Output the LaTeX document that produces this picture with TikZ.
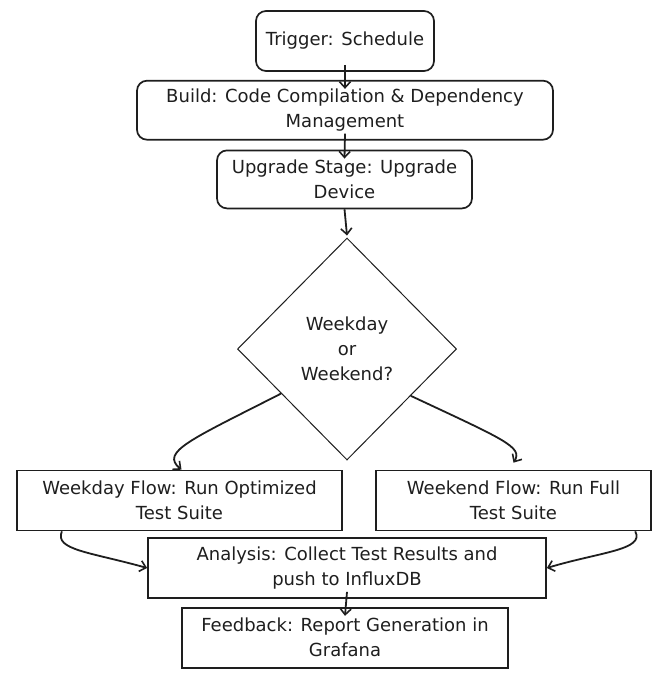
\documentclass[tikz,border=0pt]{standalone}
\usepackage{fontspec}
\setmainfont{DejaVu Sans}
\usepackage{tikz}
\usetikzlibrary{shapes.geometric, arrows.meta}
\usetikzlibrary{calc}
\usetikzlibrary{positioning}
\definecolor{ink}{HTML}{1E1E1E}

\begin{document}
\begin{tikzpicture}[x=1pt, y=-1pt, node distance=8pt,
        every node/.style={text centered, align=center, text=ink,
          font=\fontsize{18}{25}\selectfont},
        roundbox/.style={draw=ink, line width=1.7pt, rounded corners=10pt,
          minimum height=59pt, inner sep=2pt},
        flatbox/.style={draw=ink, line width=1.7pt, minimum height=60pt, inner sep=2pt},
        decision/.style={draw=ink, line width=1pt, diamond, aspect=1,
          minimum width=219pt, minimum height=222pt, inner sep=0pt},
        arrow/.style={draw=ink, line width=1.8pt,
          -{Straight Barb[length=6pt, width=11pt, line width=1.6pt]}},
      ]
      \useasboundingbox (0,0) rectangle (666,683);

      \node[roundbox, minimum width=178pt, minimum height=60pt] (trig) at (345,41) {Trigger: Schedule};
      \node[roundbox, below=8pt of trig, minimum width=416pt] (build) {Build: Code Compilation \& Dependency\\Management};
      \node[roundbox, below=9pt of build, xshift=-0.5pt, minimum width=255pt, minimum height=58pt] (upg) {Upgrade Stage: Upgrade\\Device};
      \node[decision] (dec) at (347,349) {Weekday\\or\\Weekend?};

      \node[flatbox, minimum width=325pt] (wday) at (179.5,500.5) {Weekday Flow: Run Optimized\\Test Suite};
      \node[flatbox, minimum width=275pt] (wend) at (513.5,500.5) {Weekend Flow: Run Full\\Test Suite};
      \node[flatbox, minimum width=398pt] (ana) at (347,568) {Analysis: Collect Test Results and\\push to InfluxDB};
      \node[flatbox, below=8pt of ana, xshift=-2pt, minimum width=326pt] (fb) {Feedback: Report Generation in\\Grafana};

      % straight links
      \draw[arrow] ([yshift=7pt]trig.south) -- ([yshift=-9pt]build.north);
      \draw[arrow] ([yshift=7pt]build.south) -- ([yshift=-9pt]upg.north);
      \draw[arrow] (upg.south) -- ([yshift=2pt]dec.north);
      \draw[arrow] ([yshift=7pt]ana.south) -- ([yshift=-9pt]fb.north);

      % branches
      \draw[arrow] ($(dec.west)!0.4!(dec.south)$) .. controls (190,440) and (160,452) .. ([xshift=2pt]wday.north);
      \draw[arrow] ($(dec.east)!0.42!(dec.south)$) .. controls (505,440) and (523,447) .. ([yshift=7pt]wend.north);

      % merge into analysis
      \draw[arrow] ($(wday.south west)!0.14!(wday.south east)$) .. controls (54,550) and (90,552) .. (ana.west);
      \draw[arrow] ($(wend.south west)!0.94!(wend.south east)$) .. controls (645,550) and (600,552) .. (ana.east);
    \end{tikzpicture}
\end{document}
